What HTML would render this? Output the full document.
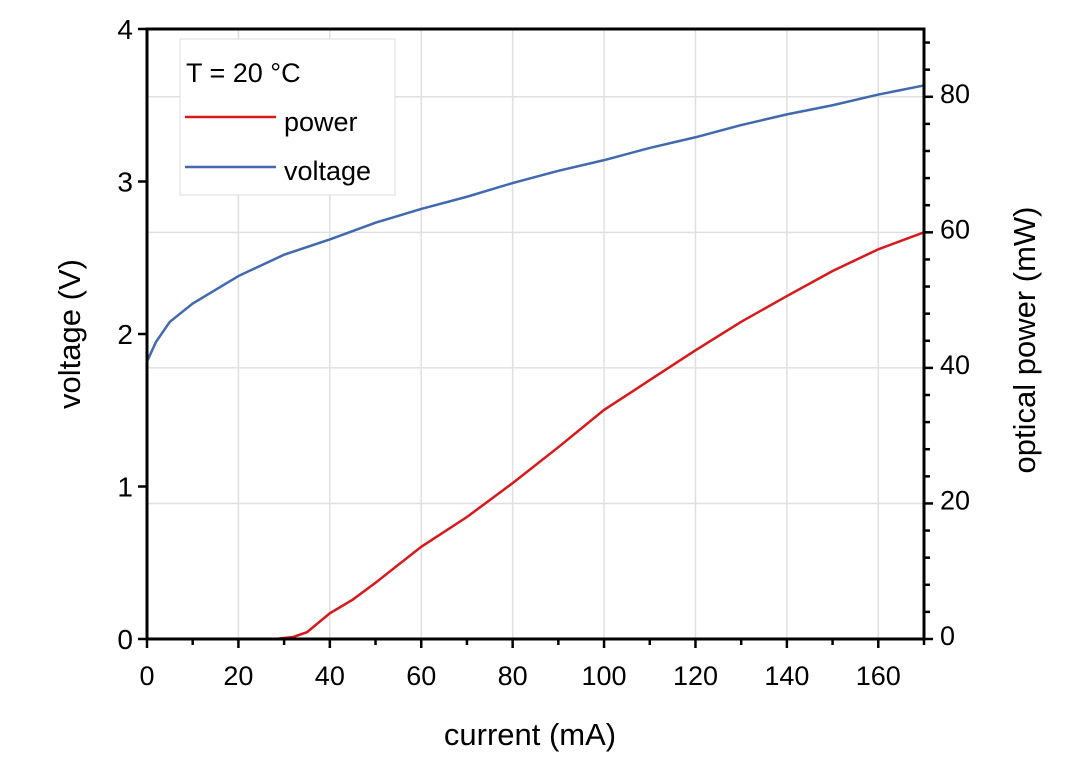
<!DOCTYPE html>
<html><head><meta charset="utf-8"><style>
body{margin:0;background:#fff}
text{font-family:"Liberation Sans",sans-serif;fill:#000}
</style></head><body>
<svg width="1087" height="768" viewBox="0 0 1087 768">
<g id="grid"></g>
<g id="series"></g>
<g id="axes"></g>
<g>
<rect x="180" y="39" width="215" height="156" fill="#fff" stroke="#ddd" stroke-width="1"/>
<text x="186" y="82" font-size="27">T = 20 °C</text>
<line x1="185" y1="117" x2="276" y2="117" stroke="#d7191c" stroke-width="2.5"/>
<text x="284" y="131" font-size="27">power</text>
<line x1="185" y1="167" x2="276" y2="167" stroke="#4169b0" stroke-width="2.5"/>
<text x="284" y="180" font-size="27">voltage</text>
</g>
<text x="530" y="745" font-size="31" text-anchor="middle">current (mA)</text>
<text transform="translate(80,334) rotate(-90)" font-size="31" text-anchor="middle">voltage (V)</text>
<text transform="translate(1035,340) rotate(-90)" font-size="31" text-anchor="middle">optical power (mW)</text>
</svg>
<script>
const currentV=[0,2,5,10,20,30,40,50,60,70,80,90,100,110,120,130,140,150,160,170];
const voltage=[1.82,1.95,2.08,2.2,2.38,2.52,2.62,2.73,2.82,2.9,2.99,3.07,3.14,3.22,3.29,3.37,3.44,3.5,3.57,3.63];
const currentP=[0,10,20,28,32,35,40,45,50,60,70,80,90,100,110,120,130,140,150,160,170];
const power=[0,0,0,0,0.3,1,3.8,5.8,8.3,13.6,18.0,23.0,28.3,33.8,38.2,42.6,46.8,50.6,54.3,57.5,60];
const xTicks=[0,20,40,60,80,100,120,140,160];
const yTicks=[0,1,2,3,4];
const y2Ticks=[0,20,40,60,80];
const X0=147,X1=924,Y0=639,Y1=29;
const x=v=>X0+(v/170)*(X1-X0);
const y=v=>Y0-(v/4)*(Y0-Y1);
const y2=v=>Y0-(v/90)*(Y0-Y1);
const NS="http://www.w3.org/2000/svg";
function mk(p,t,a){const e=document.createElementNS(NS,t);for(const k in a)e.setAttribute(k,a[k]);p.appendChild(e);return e;}
const grid=document.getElementById('grid'),axes=document.getElementById('axes'),series=document.getElementById('series');
xTicks.forEach(t=>{if(t>0){const l=mk(grid,'line',{x1:x(t),x2:x(t),y1:Y1,y2:Y0,stroke:'#e0e0e0','stroke-width':1.5});

}});
y2Ticks.forEach(t=>{if(t>0){const l=mk(grid,'line',{x1:X0,x2:X1,y1:y2(t),y2:y2(t),stroke:'#e0e0e0','stroke-width':1.5});

}});
const pv=mk(series,'path',{d:currentV.map((c,i)=>(i?'L':'M')+x(c)+','+y(voltage[i])).join(''),fill:'none',stroke:'#4169b0','stroke-width':2.5});


const pp=mk(series,'path',{d:currentP.map((c,i)=>(i?'L':'M')+x(c)+','+y2(power[i])).join(''),fill:'none',stroke:'#d7191c','stroke-width':2.5});


const fr=mk(axes,'path',{d:`M${X0},${Y1}H${X1}V${Y0}H${X0}Z`,fill:'none',stroke:'#000','stroke-width':3});


for(let t=0;t<=170;t+=10){const maj=t%20==0;mk(axes,'line',{x1:x(t),x2:x(t),y1:Y0,y2:Y0+(maj?9:6),stroke:'#000','stroke-width':2.5});}
xTicks.forEach(t=>{const e=mk(axes,'text',{x:x(t),y:Y0+46,'font-size':27,'text-anchor':'middle'});e.textContent=t;

});
yTicks.forEach(t=>{mk(axes,'line',{x1:X0-9,x2:X0,y1:y(t),y2:y(t),stroke:'#000','stroke-width':2.5});
const e=mk(axes,'text',{x:X0-14,y:y(t)+10,'font-size':28,'text-anchor':'end'});e.textContent=t;

});
for(let t=0;t<=88;t+=4){const maj=t%20==0;mk(axes,'line',{x1:X1,x2:X1+(maj?9:6),y1:y2(t),y2:y2(t),stroke:'#000','stroke-width':2.5});}
y2Ticks.forEach(t=>{const e=mk(axes,'text',{x:X1+16,y:y2(t)+6,'font-size':27});e.textContent=t;

});
</script>
</body></html>
